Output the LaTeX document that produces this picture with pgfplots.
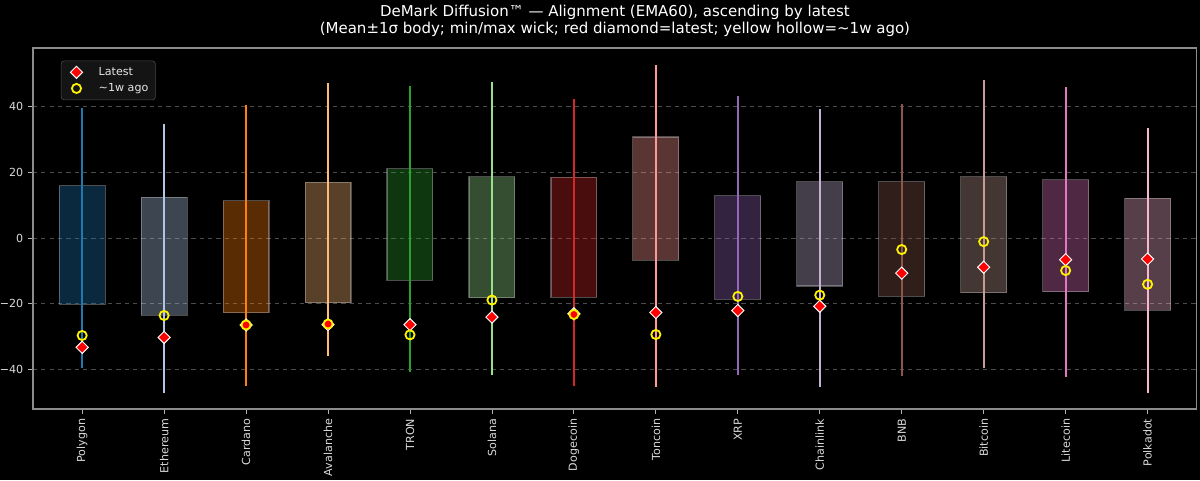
\documentclass[border=0pt]{standalone}
\usepackage{fontspec}
\setmainfont{DejaVu Sans}
\usepackage{pgfplots}
\pgfplotsset{compat=1.18}
\definecolor{c0}{HTML}{1F77B4}
\definecolor{c1}{HTML}{AEC7E8}
\definecolor{c2}{HTML}{FF7F0E}
\definecolor{c3}{HTML}{FFBB78}
\definecolor{c4}{HTML}{2CA02C}
\definecolor{c5}{HTML}{98DF8A}
\definecolor{c6}{HTML}{D62728}
\definecolor{c7}{HTML}{FF9896}
\definecolor{c8}{HTML}{9467BD}
\definecolor{c9}{HTML}{C5B0D5}
\definecolor{c10}{HTML}{8C564B}
\definecolor{c11}{HTML}{C49C94}
\definecolor{c12}{HTML}{E377C2}
\definecolor{c13}{HTML}{F7B6D2}
% color, xleft, xcenter, xright, boxlo, boxhi, wickmin, wickmax
\newcommand{\candle}[8]{%
  \addplot[fill=#1, fill opacity=0.35, draw=white, draw opacity=0.3, line width=0.8pt, forget plot]
    coordinates {(#2,#5) (#4,#5) (#4,#6) (#2,#6)} -- cycle;
  \addplot[draw=#1, line width=1.4pt, forget plot] coordinates {(#3,#7) (#3,#8)};
}
\begin{document}
\begin{tikzpicture}
\fill[black] (0,0) rectangle (864pt,345.6pt);
\begin{axis}[
  at={(23.76pt,51.12pt)}, anchor=south west,
  scale only axis, width=837.9pt, height=259.9pt,
  xmin=-0.6, xmax=13.6, ymin=-52.1, ymax=57.9,
  axis background/.style={fill=black},
  axis line style={draw=white!55!black, line width=0.8pt},
  xtick={0,...,13},
  xticklabels={Polygon,Ethereum,Cardano,Avalanche,TRON,Solana,Dogecoin,Toncoin,XRP,Chainlink,BNB,Bitcoin,Litecoin,Polkadot},
  x tick label style={rotate=90, anchor=east, font=\fontsize{8}{10}\selectfont, color=white!85!black},
  ytick={-40,-20,0,20,40},
  yticklabels={\textminus40,\textminus20,0,20,40},
  y tick label style={font=\fontsize{8}{10}\selectfont, color=white!85!black},
  tick pos=left,
  ymajorgrids, xmajorgrids=false,
  grid style={dashed, draw=white!30!black, line width=0.6pt},
  tick style={draw=white!70!black, line width=0.6pt},
  tick align=outside, major tick length=3.5pt,
  title={DeMark Diffusion™ — Alignment (EMA60), ascending by latest\\(Mean±1σ body; min/max wick; red diamond=latest; yellow hollow=\textasciitilde{}1w ago)},
  title style={align=center, font=\fontsize{10.8}{12.2}\selectfont, color=white, yshift=-1pt},
  legend image code/.code={\path[draw=none, fill=none] (0pt,0pt) -- (22pt,0pt); \draw[#1] plot coordinates {(8pt,0pt)};},
  legend style={at={(0.024,0.965)}, anchor=north west, fill=black!92!white, draw=white!30!black,
    text=white!90!black, rounded corners=2pt, font=\fontsize{8}{10}\selectfont,
    inner xsep=3pt, inner ysep=2.5pt, row sep=0.3pt},
  legend cell align=left,
]
\candle{c0}{-0.28}{0}{0.28}{-20.25}{15.9}{-39.6}{39.5}
\candle{c1}{0.72}{1}{1.28}{-23.5}{12.4}{-47.2}{34.7}
\candle{c2}{1.72}{2}{2.28}{-22.8}{11.4}{-45.1}{40.4}
\candle{c3}{2.72}{3}{3.28}{-19.7}{17.0}{-35.8}{47.1}
\candle{c4}{3.72}{4}{4.28}{-12.9}{21.1}{-40.9}{46.3}
\candle{c5}{4.72}{5}{5.28}{-18.2}{18.7}{-41.7}{47.7}
\candle{c6}{5.72}{6}{6.28}{-18.1}{18.5}{-45.2}{42.5}
\candle{c7}{6.72}{7}{7.28}{-6.8}{30.8}{-45.3}{52.7}
\candle{c8}{7.72}{8}{8.28}{-18.7}{12.9}{-41.6}{43.3}
\candle{c9}{8.72}{9}{9.28}{-14.6}{17.2}{-45.5}{39.3}
\candle{c10}{9.72}{10}{10.28}{-17.7}{17.2}{-41.9}{40.7}
\candle{c11}{10.72}{11}{11.28}{-16.6}{18.7}{-39.7}{48.3}
\candle{c12}{11.72}{12}{12.28}{-16.3}{17.8}{-42.5}{46.0}
\candle{c13}{12.72}{13}{13.28}{-22.0}{12.1}{-47.2}{33.4}
\addplot[only marks, mark=square*, mark size=3.1pt,
  mark options={rotate=45, fill=red, draw=white, line width=0.7pt}]
  coordinates {(0,-33.3) (1,-30.3) (2,-26.5) (3,-26.4) (4,-26.4) (5,-24.1) (6,-23.1)
    (7,-22.7) (8,-22.1) (9,-20.8) (10,-10.7) (11,-8.9) (12,-6.6) (13,-6.4)};
\addlegendentry{Latest}
\addplot[only marks, mark=o, mark size=3.3pt, draw=yellow,
  mark options={draw=yellow, line width=1.3pt}]
  coordinates {(0,-29.7) (1,-23.6) (2,-26.5) (3,-26.2) (4,-29.5) (5,-18.9) (6,-23.3)
    (7,-29.4) (8,-17.8) (9,-17.4) (10,-3.5) (11,-1.1) (12,-9.9) (13,-14.1)};
\addlegendentry{\textasciitilde{}1w ago}
\end{axis}
\pgfresetboundingbox
\path[use as bounding box] (0,0) rectangle (864pt,345.6pt);
\end{tikzpicture}
\end{document}
